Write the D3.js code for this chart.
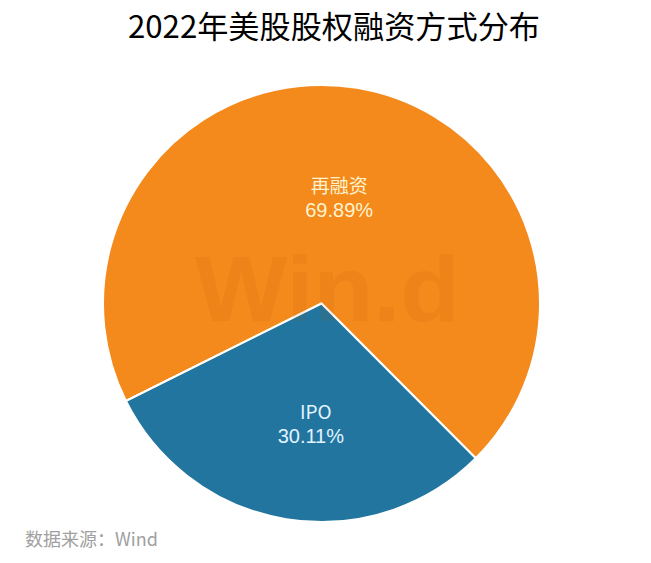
<!DOCTYPE html>
<html><head><meta charset="utf-8">
<script src="https://cdn.jsdelivr.net/npm/d3@7"></script>
<style>body{margin:0;background:#fff}svg{display:block}</style>
</head><body>
<svg id="c" width="651" height="563"></svg>
<script>
const categories = ["再融资", "IPO"];
const values = [69.89, 30.11];
const labels = ["69.89%", "30.11%"];
const colors = ["#F4891C", "#21759F"];
const labelColors = ["#FFF3CF", "#E2F4FF"];
const title = "2022年美股股权融资方式分布";
const source = "数据来源：Wind";

const svg = d3.select("#c");
const cx = 321.5, cy = 303.5, R = 218.5;
const startDeg = -116.5;

svg.append("text").attr("x", 334).attr("y", 38).attr("text-anchor", "middle")
  .attr("font-family", "'Noto Sans CJK SC', sans-serif").attr("font-size", 31)
  .attr("font-weight", 400).attr("textLength", 412).attr("lengthAdjust", "spacingAndGlyphs")
  .attr("fill", "#000").text(title);

const pie = d3.pie().sort(null).value(d => d)
  .startAngle(startDeg * Math.PI / 180).endAngle(startDeg * Math.PI / 180 + 2 * Math.PI);
const arcs = pie(values);
const arc = d3.arc().innerRadius(0).outerRadius(R);
const g = svg.append("g").attr("transform", `translate(${cx},${cy})`);

g.selectAll("path").data(arcs).join("path")
  .attr("d", arc).attr("fill", (d, i) => colors[i])
  .attr("stroke", "#fff").attr("stroke-width", 2).attr("stroke-linejoin", "round");

// watermark
g.append("text").attr("x", 6).attr("y", 17).attr("text-anchor", "middle")
  .attr("font-family", "'Liberation Sans', Arial, sans-serif").attr("font-weight", "bold")
  .attr("font-size", 92).attr("textLength", 265).attr("lengthAdjust", "spacingAndGlyphs")
  .attr("fill", "rgba(170,80,0,0.09)").text("Win.d");

const labelArc = d3.arc().innerRadius(0).outerRadius(R);
const shift = [[0, 0], [12, 11]];
arcs.forEach((d, i) => {
  const [x, y] = labelArc.centroid(d);
  const t = g.append("text").attr("text-anchor", "middle")
    .attr("font-family", "'Liberation Sans', Arial, sans-serif").attr("font-size", 20)
    .attr("fill", labelColors[i]);
  const bx = x + shift[i][0], by = y + shift[i][1];
  t.append("tspan").attr("x", bx).attr("y", by - 3)
    .attr("font-family", "'Noto Sans CJK SC', sans-serif").attr("font-size", 19).text(categories[i]);
  t.append("tspan").attr("x", bx - (i === 1 ? 5 : 0)).attr("y", by + 21).text(labels[i]);
});

svg.append("text").attr("x", 25).attr("y", 546)
  .attr("font-family", "'Noto Sans CJK SC', sans-serif").attr("font-size", 18)
  .attr("fill", "#A0A0A0").text(source);
</script>
</body></html>
